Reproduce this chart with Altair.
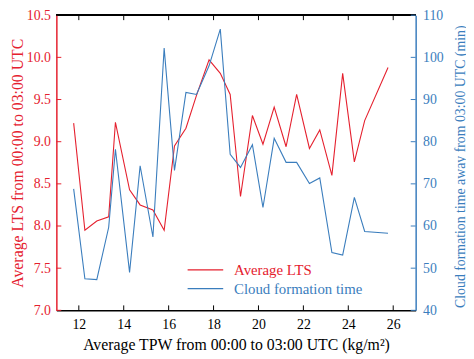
import altair as alt
import pandas as pd

# ---- data ----
tpw = [11.77, 12.27, 12.8, 13.33, 13.63, 14.26, 14.73, 15.3, 15.8, 16.26, 16.77, 17.24, 17.8, 18.3,
       18.74, 19.2, 19.73, 20.2, 20.7, 21.23, 21.7, 22.27, 22.73, 23.27, 23.75, 24.27, 24.73, 25.77]
lts = [9.22, 7.95, 8.06, 8.11, 9.23, 8.43, 8.25, 8.19, 7.95, 8.95, 9.16, 9.55, 9.97, 9.81,
       9.56, 8.35, 9.31, 8.97, 9.41, 8.94, 9.56, 8.92, 9.14, 8.60, 9.81, 8.76, 9.25, 9.88]
cft = [68.8, 47.5, 47.3, 59.7, 78.2, 49.0, 74.3, 57.4, 102.2, 73.2, 91.7, 91.2, 98.0, 106.7,
       77.0, 73.9, 79.3, 64.4, 80.8, 75.1, 75.1, 70.1, 71.4, 53.7, 53.1, 66.8, 58.7, 58.3]

x_ticks = [12, 14, 16, 18, 20, 22, 24, 26]
lts_ticks = [7.0, 7.5, 8.0, 8.5, 9.0, 9.5, 10.0, 10.5]
cft_ticks = [40, 50, 60, 70, 80, 90, 100, 110]
series = ["Average LTS", "Cloud formation time"]

W, H = 364, 299
RED = "#e5202e"
BLUE = "#3a7dbd"
FONT = "Liberation Serif"

df = pd.DataFrame({"tpw": tpw, "lts": lts, "cft": cft})
xdf = pd.DataFrame({"v": x_ticks})
ldf = pd.DataFrame({"v": lts_ticks})
rdf = pd.DataFrame({"v": cft_ticks})

xscale = alt.Scale(domain=[11, 27], nice=False, zero=False)
lscale = alt.Scale(domain=[7, 10.5], nice=False, zero=False)
rscale = alt.Scale(domain=[40, 110], nice=False, zero=False)

x_axis = alt.Axis(values=x_ticks, ticks=False, grid=False, labelPadding=7,
                  domainColor="black", domainWidth=1.5, labelColor="black",
                  labelFont=FONT, labelFontSize=14,
                  title="Average TPW from 00:00 to 03:00 UTC (kg/m²)",
                  titleFont=FONT, titleFontSize=16, titleFontWeight="normal",
                  titleColor="black", titlePadding=6)
l_axis = alt.Axis(orient="left", values=lts_ticks, format=".1f", ticks=False, grid=False,
                  labelPadding=6, domainColor=RED, domainWidth=1.5, labelColor=RED,
                  labelFont=FONT, labelFontSize=14,
                  title="Average LTS from 00:00 to 03:00 UTC", titleColor=RED,
                  titleFont=FONT, titleFontSize=16, titleFontWeight="normal",
                  titlePadding=1, zindex=2)
r_axis = alt.Axis(orient="right", values=cft_ticks, ticks=False, grid=False,
                  labelPadding=7, domainColor=BLUE, domainWidth=1.5, labelColor=BLUE,
                  labelFont=FONT, labelFontSize=14,
                  title="Cloud formation time away from 03:00 UTC (min)", titleColor=BLUE,
                  titleFont=FONT, titleFontSize=14, titleFontWeight="normal",
                  titleAngle=270, titlePadding=24, titleY=153, zindex=2)


def legend(color, lx, ly):
    return alt.Legend(title=None, orient="none", legendX=lx, legendY=ly,
                      symbolType="stroke", symbolSize=1300, symbolStrokeWidth=1.2,
                      labelColor=color, labelFont=FONT, labelFontSize=15,
                      labelOffset=10, padding=0)


red = alt.Chart(df).transform_calculate(s="'Average LTS'").mark_line(strokeWidth=1.1).encode(
    x=alt.X("tpw:Q", scale=xscale, axis=x_axis),
    y=alt.Y("lts:Q", scale=lscale, axis=l_axis),
    color=alt.Color("s:N", scale=alt.Scale(domain=[series[0]], range=[RED]),
                    legend=legend(RED, 132, 239)),
)
lt = alt.Chart(ldf).mark_rule(color=RED, strokeWidth=1).encode(
    y=alt.Y("v:Q", scale=lscale, axis=l_axis), x=alt.value(0), x2=alt.value(5))
xb = alt.Chart(xdf).mark_rule(color="black", strokeWidth=1).encode(
    x=alt.X("v:Q", scale=xscale, axis=x_axis), y=alt.value(H), y2=alt.value(H - 5))
xt = alt.Chart(xdf).mark_rule(color="black", strokeWidth=1).encode(
    x=alt.X("v:Q", scale=xscale, axis=x_axis), y=alt.value(0), y2=alt.value(5))
top = alt.Chart(xdf).mark_rule(color="black", strokeWidth=1.5).encode(
    x=alt.value(0), x2=alt.value(W), y=alt.value(0))

blue = alt.Chart(df).transform_calculate(s="'Cloud formation time'").mark_line(strokeWidth=1.1).encode(
    x=alt.X("tpw:Q", scale=xscale, axis=x_axis),
    y=alt.Y("cft:Q", scale=rscale, axis=r_axis),
    color=alt.Color("s:N", scale=alt.Scale(domain=[series[1]], range=[BLUE]),
                    legend=legend(BLUE, 132, 258)),
)
rt = alt.Chart(rdf).mark_rule(color=BLUE, strokeWidth=1).encode(
    y=alt.Y("v:Q", scale=rscale, axis=r_axis), x=alt.value(W), x2=alt.value(W - 5))

left = alt.layer(red, lt, xb, xt, top)
right = alt.layer(blue, rt)

chart = alt.layer(left, right).resolve_scale(y="independent", color="independent").properties(
    width=W, height=H,
    autosize=alt.AutoSizeParams(type="none"),
    padding={"left": 49, "top": 5, "right": 51, "bottom": 47},
).configure_view(stroke=None)

chart.save("out.html", embed_options={"renderer": "svg", "actions": False})
